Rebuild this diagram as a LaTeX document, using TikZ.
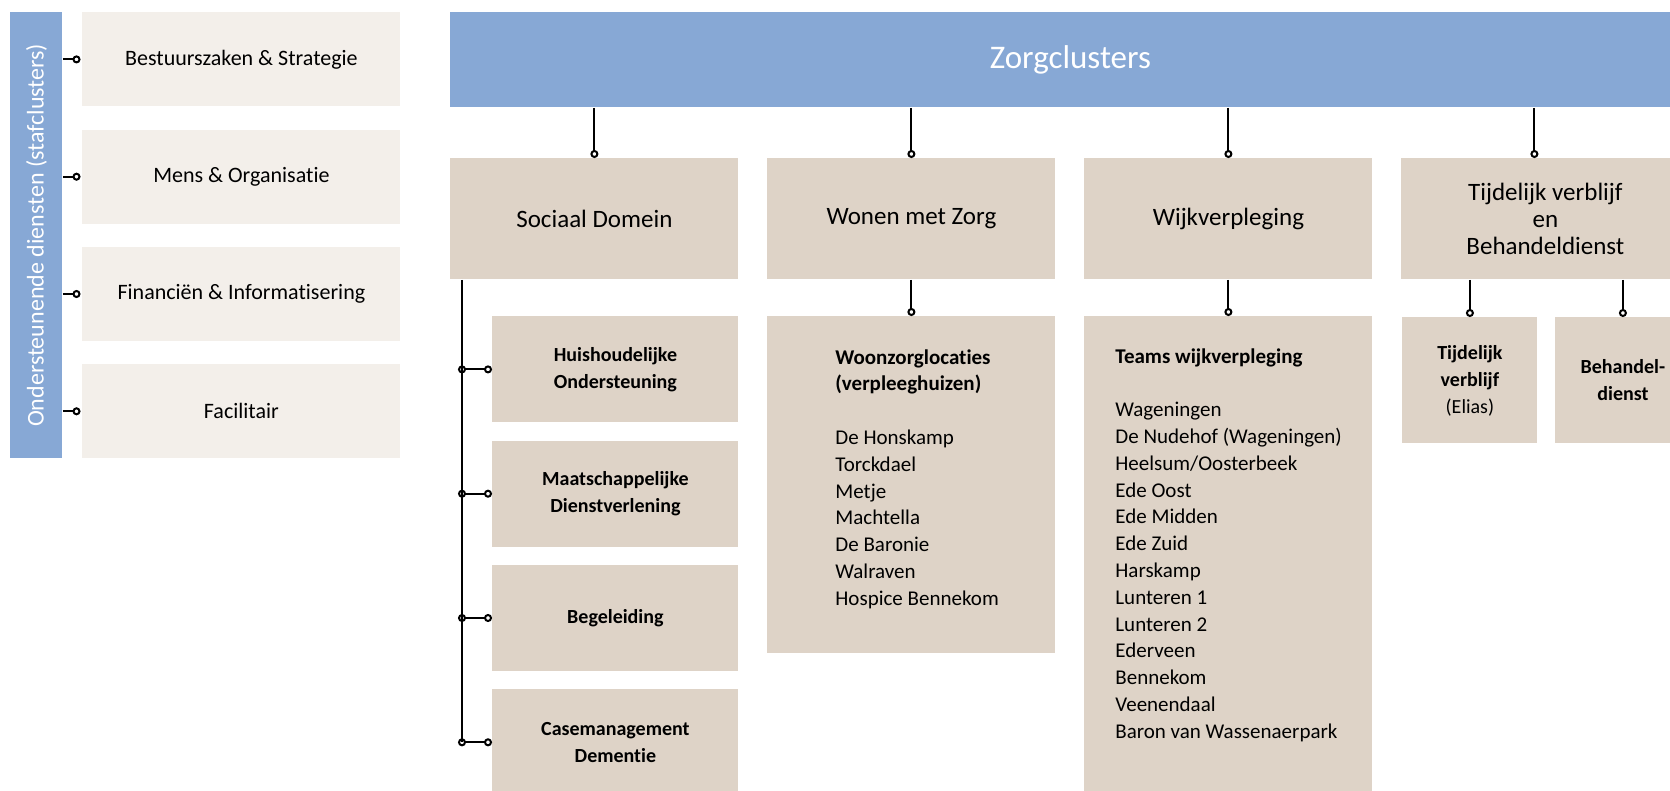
\documentclass[tikz,border=0pt]{standalone}
\usepackage{fontspec}
\setmainfont{Carlito}[Ligatures=NoCommon]
\usepackage{tikz}
\tikzset{>=latex}
\usetikzlibrary{arrows.meta}
\usetikzlibrary{calc}
\definecolor{zorgblauw}{RGB}{135,168,213}
\definecolor{zorgbeige}{RGB}{222,211,199}
\definecolor{stafgrijs}{RGB}{243,239,234}
\tikzset{
	balk/.style={fill=zorgblauw,text=white,inner sep=0pt,anchor=north west},
	stafblok/.style={fill=stafgrijs,inner sep=0pt,anchor=north west,minimum width=159pt,minimum height=47pt,font=\fontsize{11}{13}\selectfont},
	clusterblok/.style={fill=zorgbeige,inner sep=0pt,anchor=north west,minimum width=144pt,minimum height=60.5pt,align=center,font=\fontsize{12.5}{13.5}\selectfont},
	subblok/.style={fill=zorgbeige,inner sep=0pt,anchor=north west,align=center,font=\fontsize{10}{13.5}\selectfont\bfseries},
	lijst/.style={inner sep=0pt,anchor=north west,align=left,font=\fontsize{10.5}{13.4}\selectfont},
	lijn/.style={line width=1pt},
	verbind/.style={lijn,-{Circle[open,fill=white,length=4pt,width=4pt]}},
	tak/.style={lijn,{Circle[open,fill=white,length=4pt,width=4pt]}-{Circle[open,fill=white,length=4pt,width=4pt]},shorten <=-2pt}
}

\begin{document}
\begin{tikzpicture}[x=0.5pt,y=-0.5pt]
	\useasboundingbox (0,0) rectangle (1670,791);
	\clip (0,0) rectangle (1670,791);
	\node[balk,minimum width=26pt,minimum height=223pt] (stafbalk) at (10,12) {};
	\node[rotate=90,text=white,font=\fontsize{12}{14}\selectfont] (staftitel) at (stafbalk.center) {Ondersteunende diensten (stafclusters)};
	\foreach \naam/\tekst [count=\i from 0] in {bestuur/Bestuurszaken \& Strategie,mens/Mens \& Organisatie,financien/Financiën \& Informatisering,facilitair/Facilitair}{
		\node[stafblok] (\naam) at (82,12+117.3*\i) {\tekst};
		\draw[verbind,shorten >=0.75pt] (stafbalk.east |- \naam.west) -- (\naam.west);
	}
	\node[balk,minimum width=620pt,minimum height=47.5pt,font=\fontsize{16.5}{18}\selectfont] (zorg) at (450,12) {Zorgclusters};
	\node[clusterblok] (sociaal) at (450,158) {Sociaal Domein};
	\node[clusterblok] (wonen) at (767,158) {Wonen met Zorg};
	\node[clusterblok] (wijk) at (1084,158) {Wijkverpleging};
	\node[clusterblok] (tvb) at (1401,158) {Tijdelijk verblijf\\en\\Behandeldienst};
	\coordinate (tvbin) at ($(tvb.north)+(-11,0)$);
	\foreach \naam in {sociaal,wonen,wijk,tvbin}
	\draw[verbind] (zorg.south -| \naam) -- (\naam |- sociaal.north);
	\coordinate (stam) at ($(sociaal.south west)+(12,0)$);
	\foreach \naam/\tekst [count=\i from 0] in {huishoud/{Huishoudelijke\\Ondersteuning},maatsch/{Maatschappelijke\\Dienstverlening},begeleid/Begeleiding,casemgmt/{Casemanagement\\Dementie}}{
		\node[subblok,minimum width=123pt,minimum height=53pt] (\naam) at (492,316+124.3*\i) {\tekst};
		\draw[tak] (stam |- \naam.west) -- (\naam.west);
	}
	\draw[lijn] (stam) -- (stam |- casemgmt.west);
	\node[subblok,minimum width=144pt,minimum height=168.5pt] (woonzorg) at (767,316) {};
	\draw[verbind] (wonen.south) -- (woonzorg.north);
	\node[lijst] (woonzorglijst) at ($(woonzorg.north west)+(68,33)$) {\textbf{Woonzorglocaties}\\\textbf{(verpleeghuizen)}\\[13.4pt]De Honskamp\\Torckdael\\Metje\\Machtella\\De Baronie\\Walraven\\Hospice Bennekom};
	\node[subblok,minimum width=144pt,minimum height=242pt] (teams) at (1084,316) {};
	\draw[verbind] (wijk.south) -- (teams.north);
	\node[lijst] (teamslijst) at ($(teams.north west)+(31,32)$) {\textbf{Teams wijkverpleging}\\[13.4pt]Wageningen\\De Nudehof (Wageningen)\\Heelsum/Oosterbeek\\Ede Oost\\Ede Midden\\Ede Zuid\\Harskamp\\Lunteren 1\\Lunteren 2\\Ederveen\\Bennekom\\Veenendaal\\Baron van Wassenaerpark};
	\node[subblok,minimum width=67.5pt,minimum height=63pt] (tijdverblijf) at (1402,317) {Tijdelijk\\verblijf\\{\mdseries (Elias)}};
	\node[subblok,minimum width=67.5pt,minimum height=63pt] (behandel) at (1555,317) {Behandel-\\dienst};
	\draw[verbind] (tvb.south -| tijdverblijf.north) -- (tijdverblijf.north);
	\draw[verbind] (tvb.south -| behandel.north) -- (behandel.north);
\end{tikzpicture}
\end{document}
